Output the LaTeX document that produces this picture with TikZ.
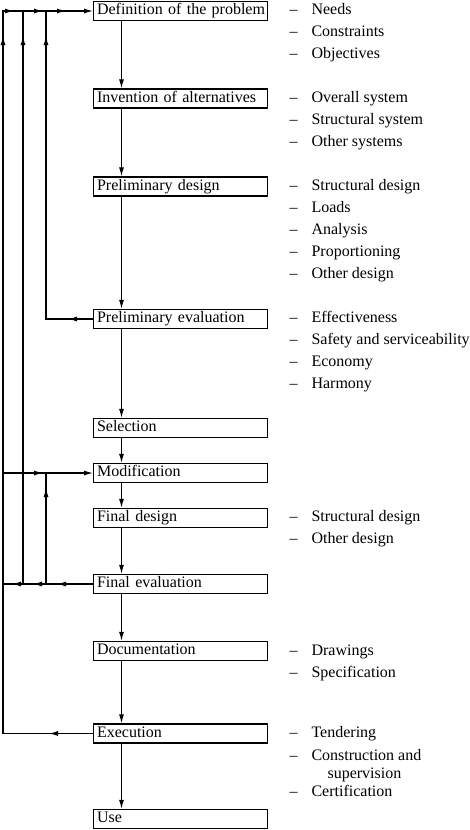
\documentclass[tikz,border=0pt]{standalone}
\usepackage{fontspec}
\setmainfont{Liberation Serif}
\usetikzlibrary{arrows.meta,decorations.markings}
\tikzset{
  box/.style={draw, anchor=west, text width=171pt, align=left, inner xsep=1.5pt, inner ysep=0pt, minimum height=19pt, text height=12.6pt, text depth=5.4pt},
  item/.style={anchor=west, inner sep=0pt, text height=12.6pt, text depth=5.4pt},
  tip/.style={-{Latex[length=9pt,width=5pt]}},
  ar/.style={postaction={decorate, decoration={markings, mark=at position #1 with {\arrow{Latex[length=9pt,width=5pt]}}}}}
}
\begin{document}
\begin{tikzpicture}[x=1pt, y=1pt, line width=1.1pt, font=\fontsize{16}{18}\selectfont]
    \useasboundingbox (0,0) rectangle (470,-830);
    \coordinate (fa) at (3,0);
    \coordinate (fb) at (23,0);
    \coordinate (fc) at (46,0);
    \coordinate (sp) at (121.5,0);
    \node[box] (def) at (93,-11) {\hspace{2pt}Definition of the problem};
    \node[box] (inv) at (93,-98.5) {\hspace{2pt}Invention of alternatives};
    \node[box] (pre) at (93,-186.5) {\hspace{2pt}Preliminary design};
    \node[box] (peval) at (93,-319) {\hspace{2pt}Preliminary evaluation};
    \node[box] (sel) at (93,-428) {\hspace{2pt}Selection};
    \node[box] (mod) at (93,-473) {\hspace{2pt}Modification};
    \node[box] (fin) at (93,-518) {\hspace{2pt}Final design};
    \node[box] (feval) at (93,-584) {\hspace{2pt}Final evaluation};
    \node[box] (doc) at (93,-651) {\hspace{2pt}Documentation};
    \node[box] (exe) at (93,-733.5) {\hspace{2pt}Execution};
    \node[box] (use) at (93,-819) {\hspace{2pt}Use};
    \foreach \a/\b in {def/inv, inv/pre, pre/peval, peval/sel, sel/mod, mod/fin, fin/feval, feval/doc, doc/exe, exe/use}
      \draw[tip] (\a.south -| sp) -- (\b.north -| sp);
    \draw[tip, ar=44pt, ar=787.5pt, ar=823.5pt, ar=852.5pt, ar=875.5pt] (exe.west) -- (exe.west -| fa) -- (def.west -| fa) -- (def.west);
    \draw[ar=-25pt] (feval.west -| fb) -- (def.west -| fb);
    \draw[ar=25pt, ar=-25pt] (peval.west) -- (peval.west -| fc) -- (def.west -| fc);
    \draw[tip, ar=40pt] (mod.west -| fa) -- (mod.west);
    \draw[ar=36pt, ar=60pt, ar=81pt] (feval.west) -- (feval.west -| fa);
    \draw[ar=-15pt] (feval.west -| fc) -- (mod.west -| fc);
    \foreach \y/\t in {11/Needs, 33/Constraints, 55/Objectives, 99/Overall system, 121/Structural system, 143/Other systems, 187/Structural design, 209/Loads, 231/Analysis, 253/Proportioning, 275/Other design, 319/Effectiveness, 341/Safety and serviceability, 363/Economy, 385/Harmony, 518/Structural design, 540/Other design, 652/Drawings, 674/Specification, 734/Tendering, 757/Construction and, 793/Certification}
      {\node[item] (d\y) at (289,-\y) {--};
       \node[item] (t\y) at (311,-\y) {\t};}
    \node[item] (t775) at (327,-775) {supervision};
\end{tikzpicture}
\end{document}
